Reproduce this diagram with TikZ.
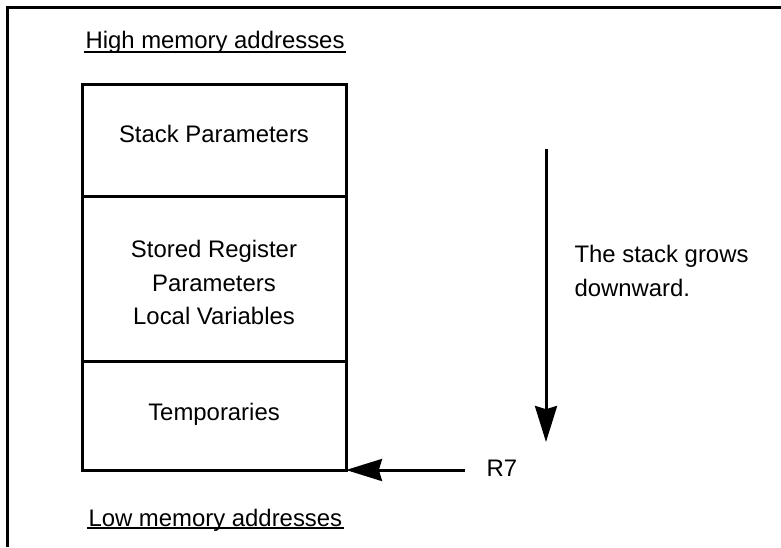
\documentclass[tikz,border=0pt]{standalone}
\usepackage{fontspec}
\setmainfont{Liberation Sans}
\usepackage{tikz}
\usetikzlibrary{arrows.meta,positioning,calc}

\begin{document}
\begin{tikzpicture}[line width=0.075cm,
  font=\fontsize{17}{24}\selectfont,
  label/.style={inner sep=0pt},
  ul/.style={line width=0.05cm},
  growarrow/.style={-{Stealth[length=0.9cm,width=0.55cm,inset=0.08cm]}}]
\useasboundingbox (0,0) rectangle (19.525,13.675);

% Page frame
\draw (0.175,0) -- (0.175,13.475) -- (19.6,13.475);

% Address labels
\node[label,anchor=base west] (hi) at (2.1,12.45) {High memory addresses};
\draw[ul] ($(hi.base west)+(0,-0.07)$) -- ($(hi.base east)+(0,-0.07)$);
\node[label,anchor=base west] (lo) at (2.175,0.525) {Low memory addresses};
\draw[ul] ($(lo.base west)+(0,-0.05)$) -- ($(lo.base east)+(0,-0.05)$);

% Stack frame
\draw (2.05,1.925) rectangle (8.65,11.55);
\draw (2.05,8.775) -- (8.65,8.775);
\draw (2.05,4.65) -- (8.65,4.65);
\coordinate (sbot) at (8.65,1.925);

\node[label,anchor=base] (stackpar) at (5.35,10.1) {Stack Parameters};
\node[label,align=center] (locals) at (5.35,6.61) {Stored Register\\Parameters\\Local Variables};
\node[label,anchor=base] (temps) at (5.35,3.175) {Temporaries};

% Growth direction
\coordinate (gtop) at (13.65,9.95);
\coordinate (gbot) at (13.65,2.625);
\draw[growarrow] (gtop) -- (gbot);
\node[label,align=left,anchor=west] (grows) at (14.325,6.905) {The stack grows\\downward.};

% Stack pointer
\node[label,inner xsep=0.5cm,anchor=base west] (r7) at (11.625,1.775) {R7};
\draw[growarrow] (r7.west |- sbot) -- (sbot);
\end{tikzpicture}
\end{document}
